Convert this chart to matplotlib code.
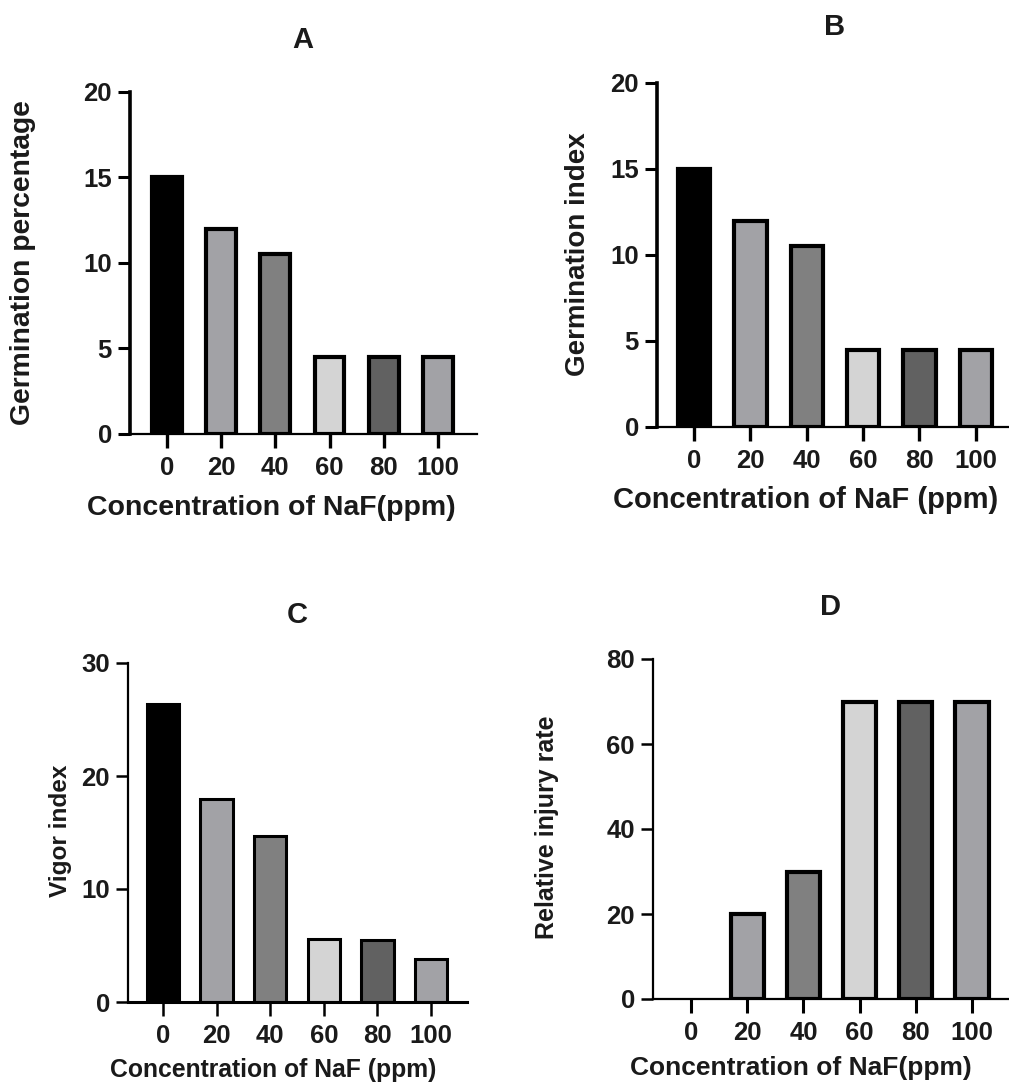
import matplotlib

matplotlib.use("Agg")
import matplotlib.pyplot as plt

plt.rcParams["font.family"] = ["Liberation Sans", "DejaVu Sans"]
plt.rcParams["font.weight"] = "bold"

W, H = 1009, 1092

concentrations = ["0", "20", "40", "60", "80", "100"]
germination_percentage = [15.0, 12.0, 10.5, 4.5, 4.5, 4.5]
germination_index = [15.0, 12.0, 10.5, 4.5, 4.5, 4.5]
vigor_index = [26.4, 18.0, 14.7, 5.6, 5.45, 3.8]
relative_injury = [0.0, 20.0, 30.0, 70.0, 70.0, 70.0]

y_ticks_a = [0, 5, 10, 15, 20]
y_ticks_c = [0, 10, 20, 30]
y_ticks_d = [0, 20, 40, 60, 80]

bar_colors = ["#000000", "#a2a2a6", "#808080", "#d4d4d4", "#616161", "#a2a2a6"]
TEXT = "#1a1a1a"


def px_rect(left, top, right, bottom):
    return [left / W, 1 - bottom / H, (right - left) / W, (bottom - top) / H]


def draw_panel(fig, rect, values, yticks, xlim, bar_width, edge, left_lw, bottom_lw, xtick_w, ytick_w):
    ax = fig.add_axes(px_rect(*rect))
    x = list(range(len(values)))
    # a zero bar would leave a thick stroke on the axis, the original shows none
    lws = [0 if v == 0 else edge for v in values]
    ax.bar(x, values, width=bar_width, color=bar_colors, edgecolor="black", linewidth=lws)
    ax.set_xlim(*xlim)
    ax.set_ylim(yticks[0], yticks[-1])
    ax.set_xticks(x)
    ax.set_xticklabels(concentrations)
    ax.set_yticks(yticks)
    for side in ("top", "right"):
        ax.spines[side].set_visible(False)
    ax.spines["left"].set_linewidth(left_lw)
    ax.spines["bottom"].set_linewidth(bottom_lw)
    ax.tick_params(axis="x", length=10, width=xtick_w, pad=6, labelsize=18.5, color="black")
    ax.tick_params(axis="y", length=9, width=ytick_w, pad=4, labelsize=18.5, color="black")
    for label in ax.get_xticklabels() + ax.get_yticklabels():
        label.set_fontweight("bold")
        label.set_color(TEXT)
    return ax


def fig_text(fig, x, y, text, size, rotation=0):
    fig.text(x / W, 1 - y / H, text, ha="center", va="center", fontsize=size,
             fontweight="bold", rotation=rotation, color=TEXT)


fig = plt.figure(figsize=(W / 100, H / 100), dpi=100)

draw_panel(fig, (130, 92, 477, 434), germination_percentage, y_ticks_a, (-0.68, 5.72), 0.55, 3.0, 2.6, 1.6, 2.4, 2.2)
draw_panel(fig, (657, 83, 1009, 427), germination_index, y_ticks_a, (-0.66, 5.59), 0.57, 3.0, 2.6, 1.6, 2.4, 2.2)
draw_panel(fig, (128, 663, 467, 1002), vigor_index, y_ticks_c, (-0.65, 5.67), 0.60, 2.2, 1.6, 2.2, 1.8, 1.8)
draw_panel(fig, (653, 659, 1009, 999), relative_injury, y_ticks_d, (-0.68, 5.66), 0.59, 3.0, 1.6, 1.6, 2.2, 1.8)

fig_text(fig, 303, 40, "A", 21)
fig_text(fig, 271, 508, "Concentration of NaF(ppm)", 20.5)
fig_text(fig, 23, 263, "Germination percentage", 20.3, rotation=90)

fig_text(fig, 835, 27, "B", 21)
fig_text(fig, 806, 500, "Concentration of NaF (ppm)", 21)
fig_text(fig, 578, 254, "Germination index", 20, rotation=90)

fig_text(fig, 297, 615, "C", 21)
fig_text(fig, 273, 1070, "Concentration of NaF (ppm)", 17.8)
fig_text(fig, 60, 831, "Vigor index", 17.6, rotation=90)

fig_text(fig, 830, 607, "D", 21)
fig_text(fig, 801, 1068, "Concentration of NaF(ppm)", 19)
fig_text(fig, 547, 827, "Relative injury rate", 18, rotation=90)

fig.savefig("out.png", dpi=100)
plt.close(fig)
